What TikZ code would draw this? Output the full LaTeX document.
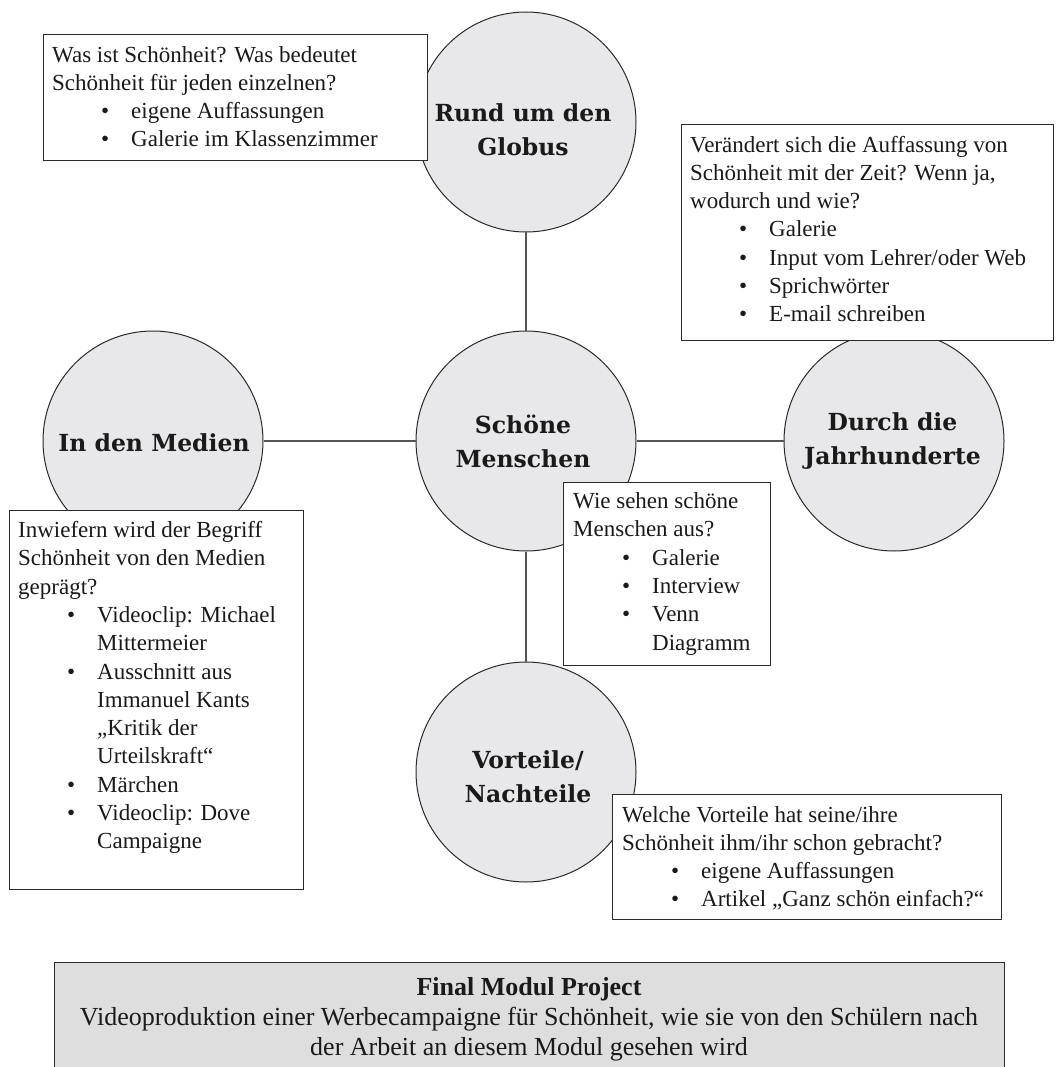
\documentclass[tikz,border=0pt]{standalone}
\usepackage{fontspec}
\setmainfont{Liberation Serif}
\newfontfamily\slabfont{DejaVu Serif}
\definecolor{circfill}{HTML}{E8E8EA}
\definecolor{finalfill}{HTML}{DEDEDE}
\definecolor{edgecol}{HTML}{2A2A2A}
\definecolor{linkcol}{HTML}{555555}
\definecolor{txtcol}{HTML}{1A1A1A}
\newcommand\blt[1]{\hspace*{49pt}\makebox[30pt][l]{•}#1}
\newcommand\cnt[1]{\hspace*{79pt}#1}
\begin{document}
\begin{tikzpicture}[x=1pt,y=-1pt,
  circ/.style={circle, draw=edgecol, line width=1pt, fill=circfill, minimum size=220pt, inner sep=0pt},
  ctext/.style={font=\slabfont\bfseries\fontsize{23.5}{34}\selectfont, align=center, text=txtcol, inner sep=0pt},
  infobox/.style={draw=edgecol, line width=1.2pt, fill=white, anchor=north west, inner sep=0pt},
  infotext/.style={anchor=north west, inner sep=0pt, align=left, font=\fontsize{23}{28.3}\selectfont, text=txtcol},
  link/.style={draw=linkcol, line width=1.3pt}]
\useasboundingbox (0,0) rectangle (1062,1067);

% circles
\node[circ] (globus) at (526,122) {};
\node[circ] (menschen) at (526,441) {};
\node[circ] (medien) at (153,441) {};
\node[circ] (jahrh) at (894,441) {};
\node[circ] (vorteile) at (526,772) {};

% connectors
\draw[link] (globus) -- (menschen);
\draw[link] (medien) -- (menschen);
\draw[link] (menschen) -- (jahrh);
\draw[link] (menschen) -- (vorteile);

% circle labels
\node[ctext] (tglobus) at (523,130) {Rund um den\\Globus};
\node[ctext] (tmenschen) at (523,441) {Schöne\\Menschen};
\node[ctext] (tmedien) at (154,443) {In den Medien};
\node[ctext] (tjahrh) at (892.5,441) {Durch die\\Jahrhunderte};
\node[ctext] (tvorteile) at (528,777) {Vorteile/\\Nachteile};

% info boxes
\node[infobox, minimum width=384pt, minimum height=126pt] (qglobus) at (43,34) {};
\node[infotext] (xglobus) at ([shift={(9,8)}]qglobus.north west) {\strut Was ist Schönheit? Was bedeutet\\
Schönheit für jeden einzelnen?\\
\blt{eigene Auffassungen}\\
\blt{Galerie im Klassenzimmer}};

\node[infobox, minimum width=372pt, minimum height=216pt] (qjahrh) at (681,124) {};
\node[infotext] (xjahrh) at ([shift={(9,8)}]qjahrh.north west) {\strut Verändert sich die Auffassung von\\
Schönheit mit der Zeit? Wenn ja,\\
wodurch und wie?\\
\blt{Galerie}\\
\blt{Input vom Lehrer/oder Web}\\
\blt{Sprichwörter}\\
\blt{E-mail schreiben}};

\node[infobox, minimum width=294pt, minimum height=379pt] (qmedien) at (9,510) {};
\node[infotext] (xmedien) at ([shift={(9,7.5)}]qmedien.north west) {\strut Inwiefern wird der Begriff\\
Schönheit von den Medien\\
geprägt?\\
\blt{Videoclip: Michael}\\
\cnt{Mittermeier}\\
\blt{Ausschnitt aus}\\
\cnt{Immanuel Kants}\\
\cnt{„Kritik der}\\
\cnt{Urteilskraft“}\\
\blt{Märchen}\\
\blt{Videoclip: Dove}\\
\cnt{Campaigne}};

\node[infobox, minimum width=207pt, minimum height=183pt] (qmenschen) at (563,482) {};
\node[infotext] (xmenschen) at ([shift={(10,6.5)}]qmenschen.north west) {\strut Wie sehen schöne\\
Menschen aus?\\
\blt{Galerie}\\
\blt{Interview}\\
\blt{Venn}\\
\cnt{Diagramm}};

\node[infobox, minimum width=389pt, minimum height=125pt] (qvorteile) at (612,794) {};
\node[infotext] (xvorteile) at ([shift={(10,8)}]qvorteile.north west) {\strut Welche Vorteile hat seine/ihre\\
Schönheit ihm/ihr schon gebracht?\\
\blt{eigene Auffassungen}\\
\blt{Artikel „Ganz schön einfach?“}};

% final project
\node[draw=edgecol, line width=1.2pt, fill=finalfill, anchor=north west, inner sep=0pt, minimum width=950pt, minimum height=108pt] (final) at (54,962) {};
\node[anchor=north, inner sep=0pt, align=center, font=\fontsize{26}{30}\selectfont, text=txtcol] (tfinal) at (529,974) {\strut\textbf{Final Modul Project}\\
Videoproduktion einer Werbecampaigne für Schönheit, wie sie von den Schülern nach\\
der Arbeit an diesem Modul gesehen wird};
\end{tikzpicture}
\end{document}
